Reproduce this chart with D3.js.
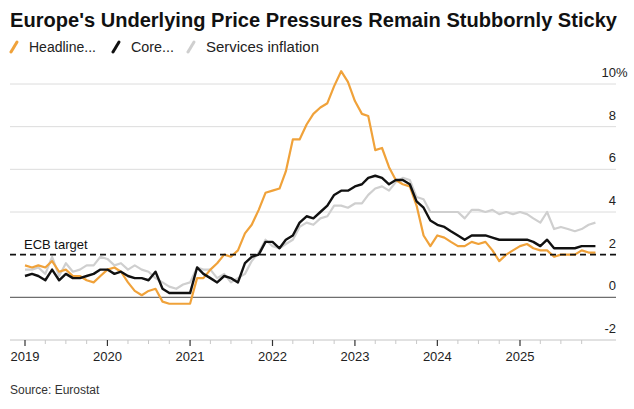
<!DOCTYPE html>
<html>
<head>
<meta charset="utf-8">
<script src="https://cdn.jsdelivr.net/npm/d3@7"></script>
<style>
  body { margin: 0; background: #fff; }
  svg text { font-family: "Liberation Sans", Arial, sans-serif; }
</style>
</head>
<body>
<svg id="chart"></svg>
<script>
const width = 634, height = 409;

// monthly series, Dec 2018 .. Nov 2025 (yoy %)
const firstMonth = new Date(2018, 11, 1);
const headline = [
  1.5,
  1.4, 1.5, 1.4, 1.7, 1.2, 1.3, 1.0, 1.0, 0.8, 0.7, 1.0, 1.3,
  1.4, 1.2, 0.7, 0.3, 0.1, 0.3, 0.4, -0.2, -0.3, -0.3, -0.3, -0.3,
  0.9, 0.9, 1.3, 1.6, 2.0, 1.9, 2.2, 3.0, 3.4, 4.1, 4.9, 5.0,
  5.1, 5.9, 7.4, 7.4, 8.1, 8.6, 8.9, 9.1, 9.9, 10.6, 10.1, 9.2,
  8.6, 8.5, 6.9, 7.0, 6.1, 5.5, 5.3, 5.2, 4.3, 2.9, 2.4, 2.9,
  2.8, 2.6, 2.4, 2.4, 2.6, 2.5, 2.6, 2.2, 1.7, 2.0, 2.2, 2.4,
  2.5, 2.3, 2.2, 2.2, 1.9, 2.0, 2.0, 2.0, 2.2, 2.1, 2.1
];
const core = [
  1.0,
  1.1, 1.0, 0.8, 1.3, 0.8, 1.1, 0.9, 0.9, 1.0, 1.1, 1.3, 1.3,
  1.1, 1.2, 1.0, 0.9, 0.9, 0.8, 1.2, 0.4, 0.2, 0.2, 0.2, 0.2,
  1.4, 1.1, 0.9, 0.7, 1.0, 0.9, 0.7, 1.6, 1.9, 2.0, 2.6, 2.6,
  2.3, 2.7, 2.9, 3.5, 3.8, 3.7, 4.0, 4.3, 4.8, 5.0, 5.0, 5.2,
  5.3, 5.6, 5.7, 5.6, 5.3, 5.5, 5.5, 5.3, 4.5, 4.2, 3.6, 3.4,
  3.3, 3.1, 2.9, 2.7, 2.9, 2.9, 2.9, 2.8, 2.7, 2.7, 2.7, 2.7,
  2.7, 2.6, 2.4, 2.7, 2.3, 2.3, 2.3, 2.3, 2.4, 2.4, 2.4
];
const services = [
  1.3,
  1.3, 1.4, 1.1, 1.9, 1.0, 1.6, 1.2, 1.3, 1.5, 1.5, 1.9, 1.8,
  1.5, 1.6, 1.3, 1.5, 1.3, 1.2, 0.9, 0.7, 0.5, 0.4, 0.6, 0.7,
  1.4, 1.3, 1.3, 0.9, 1.1, 0.7, 0.9, 1.1, 1.7, 2.1, 2.7, 2.4,
  2.3, 2.5, 2.7, 3.3, 3.5, 3.4, 3.7, 3.8, 4.3, 4.3, 4.2, 4.4,
  4.4, 4.8, 5.1, 5.2, 5.0, 5.4, 5.6, 5.5, 4.7, 4.6, 4.0, 4.0,
  4.0, 4.0, 4.0, 3.7, 4.1, 4.1, 4.0, 4.1, 3.9, 4.0, 3.9, 4.0,
  3.9, 3.7, 3.5, 4.0, 3.2, 3.3, 3.2, 3.1, 3.2, 3.4, 3.5
];

const yearTicks = [2019, 2020, 2021, 2022, 2023, 2024, 2025];
const yTicks = [-2, 0, 2, 4, 6, 8, 10];
const ecbTarget = 2;

const legendItems = [
  {label: "Headline...", color: "#f0a23a", x: 10, w: 67},
  {label: "Core...", color: "#111111", x: 112, w: 43},
  {label: "Services inflation", color: "#cfcfcf", x: 187, w: 113}
];

const svg = d3.select("#chart")
    .attr("width", width)
    .attr("height", height);

// scales
const x = d3.scaleTime()
    .domain([new Date(2019, 0, 1), new Date(2025, 0, 1)])
    .range([25, 520]);
const y = d3.scaleLinear()
    .domain([-2, 10])
    .range([340, 84]);
const left = 10, right = 616;

// each monthly value sits at the end of its month
const dateOf = i => d3.timeMonth.offset(firstMonth, i + 1);

// title
svg.append("text")
    .attr("x", 10).attr("y", 27)
    .attr("font-size", 20).attr("font-weight", "bold")
    .attr("fill", "#111")
    .attr("textLength", 607).attr("lengthAdjust", "spacingAndGlyphs")
    .text("Europe's Underlying Price Pressures Remain Stubbornly Sticky");

// legend
legendItems.forEach(d => {
    svg.append("line")
        .attr("x1", d.x + 1).attr("y1", 52)
        .attr("x2", d.x + 7).attr("y2", 42)
        .attr("stroke", d.color).attr("stroke-width", 3)
        .attr("stroke-linecap", "round");
    svg.append("text")
        .attr("x", d.x + 19).attr("y", 52)
        .attr("font-size", 14).attr("fill", "#222")
        .attr("textLength", d.w).attr("lengthAdjust", "spacingAndGlyphs")
        .text(d.label);
});

// gridlines
svg.append("g")
    .selectAll("line")
    .data(yTicks.filter(v => v > 2))
    .join("line")
      .attr("x1", left).attr("x2", right)
      .attr("y1", d => y(d)).attr("y2", d => y(d))
      .attr("stroke", "#dcdcdc").attr("stroke-width", 1);

// zero line
svg.append("line")
    .attr("x1", left).attr("x2", right)
    .attr("y1", y(0)).attr("y2", y(0))
    .attr("stroke", "#6e6e6e").attr("stroke-width", 1.2);

// y labels (right side, above the gridline)
const ylab = svg.append("g");
yTicks.forEach(v => {
    ylab.append("text")
        .attr("x", right).attr("y", y(v) - 7)
        .attr("font-size", 13).attr("fill", "#222")
        .attr("text-anchor", "end")
        .text(v);
    if (v === 10) {
        ylab.append("text")
            .attr("x", right).attr("y", y(v) - 7)
            .attr("font-size", 13).attr("fill", "#222")
            .text("%");
    }
});

// x axis
const xAxis = svg.append("g").attr("transform", `translate(0,${y(-2)})`);
xAxis.append("line")
    .attr("x1", left).attr("x2", right)
    .attr("stroke", "#c4c4c4").attr("stroke-width", 1);
const quarters = d3.timeMonth.every(3).range(new Date(2019, 0, 1), x.invert(right));
xAxis.selectAll("line.minor")
    .data(quarters.filter(d => d.getMonth() !== 0))
    .join("line")
      .attr("class", "minor")
      .attr("x1", d => x(d)).attr("x2", d => x(d))
      .attr("y1", 0).attr("y2", 4)
      .attr("stroke", "#c8c8c8");
xAxis.selectAll("line.major")
    .data(yearTicks)
    .join("line")
      .attr("class", "major")
      .attr("x1", d => x(new Date(d, 0, 1))).attr("x2", d => x(new Date(d, 0, 1)))
      .attr("y1", 0).attr("y2", 6)
      .attr("stroke", "#333").attr("stroke-width", 1.2);
xAxis.selectAll("text")
    .data(yearTicks)
    .join("text")
      .attr("x", d => x(new Date(d, 0, 1)))
      .attr("y", 21)
      .attr("text-anchor", "middle")
      .attr("font-size", 13).attr("fill", "#222")
      .text(d => d);

// series
const line = d3.line()
    .x((d, i) => x(dateOf(i)))
    .y(d => y(d));

svg.append("path").datum(services)
    .attr("fill", "none").attr("stroke", "#cfcfcf")
    .attr("stroke-width", 2.2).attr("stroke-linejoin", "round")
    .attr("d", line);
svg.append("path").datum(headline)
    .attr("fill", "none").attr("stroke", "#f0a23a")
    .attr("stroke-width", 2.2).attr("stroke-linejoin", "round")
    .attr("d", line);
svg.append("path").datum(core)
    .attr("fill", "none").attr("stroke", "#111")
    .attr("stroke-width", 2.4).attr("stroke-linejoin", "round")
    .attr("d", line);

// ECB target
svg.append("line")
    .attr("x1", left).attr("x2", right)
    .attr("y1", y(ecbTarget)).attr("y2", y(ecbTarget))
    .attr("stroke", "#111").attr("stroke-width", 1.8)
    .attr("stroke-dasharray", "6,4");
svg.append("text")
    .attr("x", 24).attr("y", y(ecbTarget) - 6)
    .attr("font-size", 13).attr("fill", "#111")
    .text("ECB target");

// source
svg.append("text")
    .attr("x", 10).attr("y", 394)
    .attr("font-size", 12).attr("fill", "#333")
    .text("Source: Eurostat");
</script>
</body>
</html>
